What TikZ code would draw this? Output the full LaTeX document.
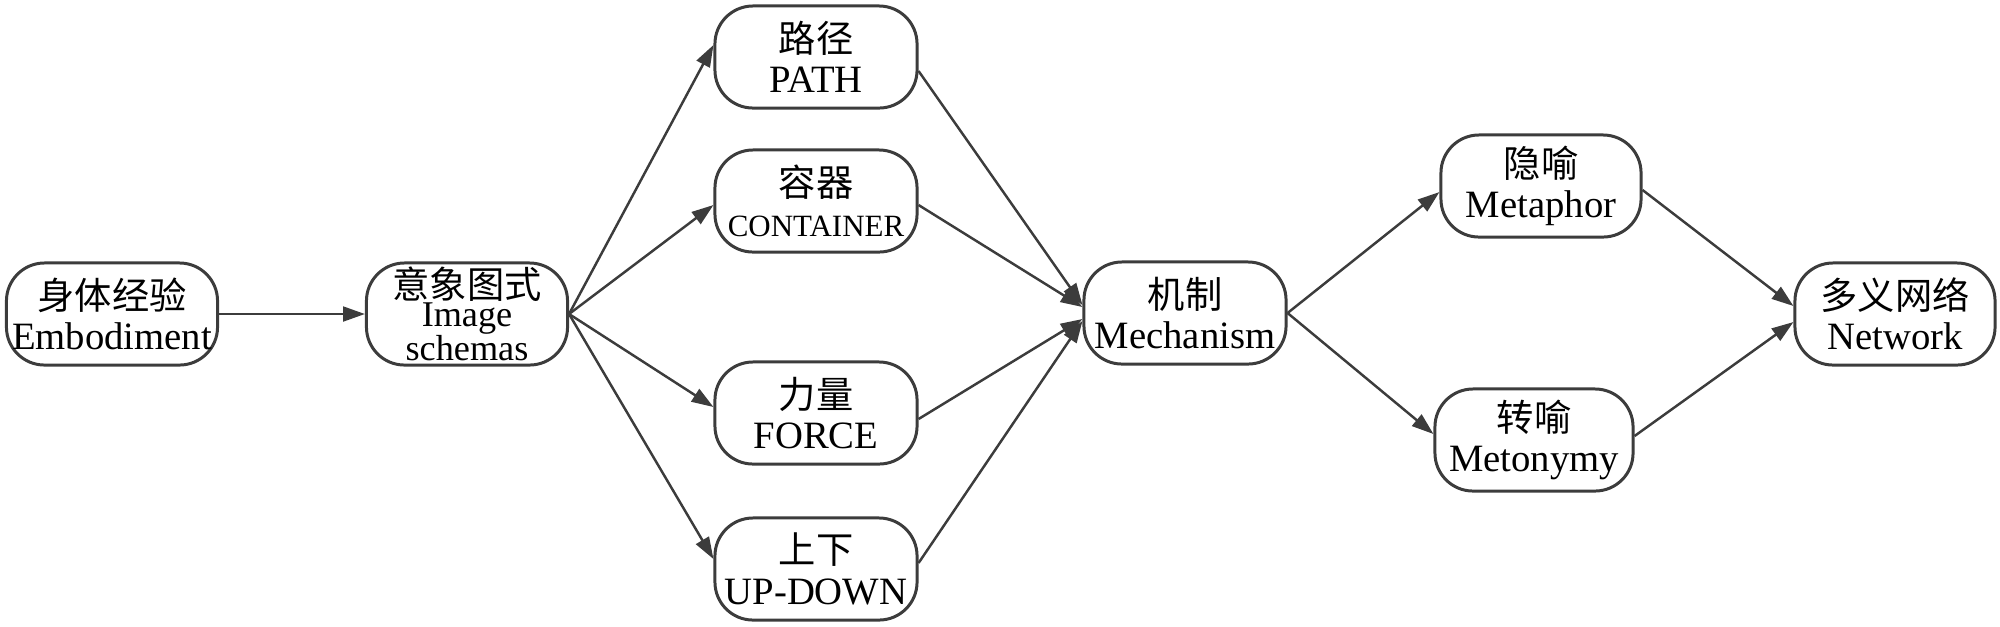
\documentclass[tikz,border=0pt]{standalone}
\usepackage{fontspec}
\setmainfont{Liberation Serif}
\newfontfamily\cjk{Noto Sans CJK SC}
\usetikzlibrary{arrows.meta}
\newcommand\zhtext[1]{{\cjk\fontsize{10.6pt}{11.5pt}\selectfont #1}}
\definecolor{lc}{HTML}{3C3C3C}
\begin{document}
\begin{tikzpicture}[x=0.01cm,y=-0.01cm,
  box/.style={draw=lc, line width=0.85pt, rounded corners=0.38cm, fill=white,
    minimum height=1.02cm, inner sep=0pt, align=center,
    font=\fontsize{11pt}{11.5pt}\selectfont},
  arr/.style={draw=lc, line width=0.7pt, -{Triangle[length=6.2pt,width=4.2pt]}},
]
\useasboundingbox (0,0) rectangle (2000,626);
\node[box, minimum width=2.11cm] (emb) at (112,314) {\zhtext{身体经验}\\Embodiment};
\node[box, minimum width=2.01cm, font=\fontsize{10.3pt}{11.5pt}\selectfont] (img) at (467,314) {\zhtext{意象图式}\\[-3.6pt]Image\\[-1.8pt]schemas};
\node[box, minimum width=2.02cm] (path) at (816,57) {\zhtext{路径}\\PATH};
\node[box, minimum width=2.02cm] (cont) at (816,201) {\zhtext{容器}\\{\fontsize{8.8pt}{11.5pt}\selectfont CONTAINER}};
\node[box, minimum width=2.02cm] (force) at (816,413) {\zhtext{力量}\\FORCE};
\node[box, minimum width=2.02cm] (updown) at (816,569) {\zhtext{上下}\\UP-DOWN};
\node[box, minimum width=2.02cm] (mech) at (1185,313) {\zhtext{机制}\\Mechanism};
\node[box, minimum width=2.00cm] (meta) at (1541,186) {\zhtext{隐喻}\\Metaphor};
\node[box, minimum width=1.98cm] (meto) at (1534,440) {\zhtext{转喻}\\Metonymy};
\node[box, minimum width=2.00cm] (net) at (1895,314) {\zhtext{多义网络}\\Network};
\draw[arr] (emb.east) -- (img.west);
\draw[arr] (img.east) -- ([yshift=0.12cm]path.west);
\draw[arr] (img.east) -- ([yshift=-0.04cm]cont.west);
\draw[arr] (img.east) -- ([yshift=0.06cm]force.west);
\draw[arr] (img.east) -- ([yshift=0.10cm]updown.west);
\draw[arr] ([yshift=-0.14cm]path.east) -- ([yshift=0.08cm]mech.west);
\draw[arr] ([yshift=-0.04cm]cont.east) -- ([yshift=0.06cm]mech.west);
\draw[arr] ([yshift=-0.06cm]force.east) -- ([yshift=-0.06cm]mech.west);
\draw[arr] ([yshift=0.06cm]updown.east) -- ([yshift=-0.08cm]mech.west);
\draw[arr] (mech.east) -- ([yshift=-0.06cm]meta.west);
\draw[arr] (mech.east) -- ([yshift=0.06cm]meto.west);
\draw[arr] ([yshift=-0.04cm]meta.east) -- ([yshift=0.08cm]net.west);
\draw[arr] ([yshift=0.04cm]meto.east) -- ([yshift=-0.08cm]net.west);
\end{tikzpicture}
\end{document}
